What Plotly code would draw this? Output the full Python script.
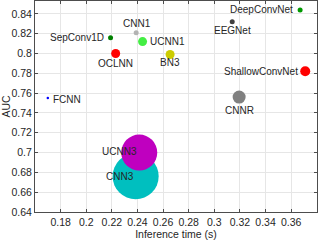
import plotly.graph_objects as go

models = ["CNN3", "UCNN3", "FCNN", "SepConv1D", "OCLNN", "CNN1", "UCNN1", "BN3",
          "EEGNet", "DeepConvNet", "ShallowConvNet", "CNNR"]
inference_time = [0.2386, 0.2414, 0.170, 0.219, 0.223, 0.239, 0.244, 0.2655,
                  0.314, 0.367, 0.371, 0.3194]
auc = [0.676, 0.700, 0.755, 0.816, 0.800, 0.821, 0.812, 0.799,
       0.832, 0.844, 0.782, 0.756]

x_ticks = [0.18, 0.2, 0.22, 0.24, 0.26, 0.28, 0.3, 0.32, 0.34, 0.36, 0.38]
y_ticks = [0.64, 0.66, 0.68, 0.7, 0.72, 0.74, 0.76, 0.78, 0.8, 0.82, 0.84]

# styles
marker_sizes = [46, 36, 2.5, 5, 9, 5, 9, 9, 5, 5, 10, 13]
marker_colors = ["#00bfbf", "#bf00bf", "#0000ff", "#008000", "#ff0000", "#b3b3b3",
                 "#44ee44", "#cccc00", "#404040", "#009900", "#ff0000", "#808080"]
# label placement: (xanchor, yanchor, xshift, yshift)
label_place = {
    "CNN3": ("right", "middle", 0, 0),
    "UCNN3": ("right", "middle", 0, 1),
    "FCNN": ("left", "middle", 3, -1),
    "SepConv1D": ("right", "middle", -5, 0),
    "OCLNN": ("center", "top", 0, -2),
    "CNN1": ("center", "bottom", 1, 2),
    "UCNN1": ("left", "middle", 5, 0),
    "BN3": ("center", "top", 0, -1),
    "EEGNet": ("center", "top", 0, -1),
    "DeepConvNet": ("right", "middle", -5, 0),
    "ShallowConvNet": ("right", "middle", -5, 0),
    "CNNR": ("center", "top", 0, -6),
}

FONT = "Liberation Sans, Arial, sans-serif"
fig = go.Figure()
fig.add_trace(go.Scatter(
    x=inference_time, y=auc, mode="markers",
    marker=dict(size=marker_sizes, color=marker_colors, opacity=1, line=dict(width=0)),
    hoverinfo="text", text=models, showlegend=False,
))

for name, xv, yv in zip(models, inference_time, auc):
    xa, ya, xs, ys = label_place[name]
    fig.add_annotation(x=xv, y=yv, text=name, showarrow=False, xanchor=xa, yanchor=ya,
                       xshift=xs, yshift=ys, font=dict(family=FONT, size=10, color="#262626"))

axis_common = dict(showgrid=True, gridcolor="#e6e6e6", gridwidth=1, zeroline=False,
                   showline=True, linecolor="#4d4d4d", linewidth=1, mirror="allticks",
                   ticks="inside", ticklen=3, tickcolor="#4d4d4d", automargin=False,
                   tickfont=dict(family=FONT, size=10.5, color="#262626"))
fig.update_xaxes(range=[0.16, 0.3802], tickvals=x_ticks,
                 ticktext=[f"{v:g}" for v in x_ticks],
                 title=dict(text="Inference time (s)", font=dict(family=FONT, size=10.5, color="#262626"), standoff=2),
                 **axis_common)
fig.update_yaxes(range=[0.64, 0.853], tickvals=y_ticks,
                 ticktext=[f"{v:g}" for v in y_ticks],
                 title=dict(text="AUC", font=dict(family=FONT, size=10.5, color="#262626"), standoff=0),
                 **axis_common)
fig.update_layout(width=327, height=245, margin=dict(l=35, r=10, t=1, b=33),
                  plot_bgcolor="white", paper_bgcolor="white")
fig.write_html("out.html", config={"displayModeBar": False},
               post_script="document.body.style.margin='0';document.body.style.padding='0';")
